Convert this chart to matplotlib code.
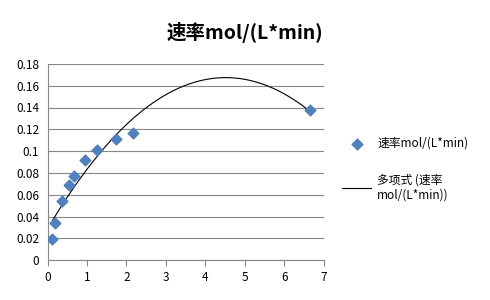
import matplotlib
matplotlib.use("Agg")
import matplotlib.pyplot as plt
import numpy as np

plt.rcParams['font.family'] = ['Noto Sans CJK SC', 'DejaVu Sans']

# data
x = [0.12, 0.19, 0.375, 0.54, 0.67, 0.96, 1.245, 1.73, 2.16, 6.65]
rate = [0.019, 0.0337, 0.054, 0.0686, 0.0774, 0.0918, 0.101, 0.1108, 0.117, 0.1374]
series_name = "速率mol/(L*min)"
trend_name = "多项式 (速率\nmol/(L*min))"
yticks = [0, 0.02, 0.04, 0.06, 0.08, 0.1, 0.12, 0.14, 0.16, 0.18]
yticklabels = ["0", "0.02", "0.04", "0.06", "0.08", "0.1", "0.12", "0.14", "0.16", "0.18"]

# 2nd order trendline like excel
coef = np.polyfit(x, rate, 2)
xs = np.linspace(min(x), max(x), 200)
ys = np.polyval(coef, xs)

fig = plt.figure(figsize=(4.9, 3.0), dpi=100)
ax = fig.add_axes([0.097, 0.133, 0.564, 0.654])

ax.scatter(x, rate, marker='D', s=30, color='#4F81BD', zorder=3, label=series_name)
ax.plot(xs, ys, color='black', lw=0.8, zorder=2, label=trend_name)

ax.set_xlim(0, 7)
ax.set_ylim(0, 0.18)
ax.set_xticks(range(8))
ax.set_yticks(yticks)
ax.set_yticklabels(yticklabels)
ax.grid(axis='y', color='#868686', lw=0.8)
ax.set_axisbelow(True)
for s in ['top', 'right']:
    ax.spines[s].set_visible(False)
for s in ['left', 'bottom']:
    ax.spines[s].set_color('#868686')
ax.tick_params(axis='x', length=4, color='#868686', labelsize=8.5, direction='out')
ax.tick_params(axis='y', length=0, labelsize=8.5, pad=6)

fig.text(0.5, 0.893, series_name, ha='center', va='center', fontsize=14, fontweight='bold')

fig.legend(loc='upper left', bbox_to_anchor=(0.676, 0.58), frameon=False,
           fontsize=8.5, handlelength=2.5, labelspacing=2.0, handletextpad=0.5)

fig.savefig("out.png", dpi=100)
